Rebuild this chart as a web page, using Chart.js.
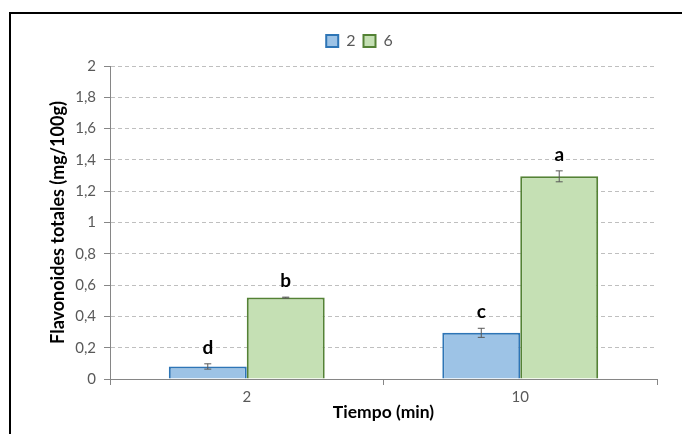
<!DOCTYPE html>
<html>
<head>
<meta charset="utf-8">
<script src="https://cdn.jsdelivr.net/npm/chart.js@4"></script>
<style>
  html, body { margin: 0; padding: 0; background: #fff; }
  #wrap { width: 682px; height: 434px; }
</style>
</head>
<body>
<div id="wrap"><canvas id="grafico" width="682" height="434"></canvas></div>
<script>
// datos
const categorias = ['2', '10'];
const serieNombres = ['2', '6'];
const valores2 = [0.08, 0.295];
const valores6 = [0.52, 1.295];
const error2 = [0.017, 0.029];
const error6 = [0.003, 0.035];
const letras2 = ['d', 'c'];
const letras6 = ['b', 'a'];
const ticksY = [0, 0.2, 0.4, 0.6, 0.8, 1, 1.2, 1.4, 1.6, 1.8, 2];

const fuente = 'Lato, "Open Sans", sans-serif';
const gris = '#595959';

// marco negro arriba e izquierda
const marco = {
  id: 'marco',
  afterDraw(chart) {
    const c = chart.ctx;
    c.save();
    c.strokeStyle = '#000';
    c.lineWidth = 2;
    c.beginPath();
    c.moveTo(682, 13);
    c.lineTo(10, 13);
    c.lineTo(10, 434);
    c.stroke();
    c.restore();
  }
};

// barras de error y letras
const errores = {
  id: 'errores',
  afterDatasetsDraw(chart) {
    const c = chart.ctx;
    const y = chart.scales.y;
    const errs = [error2, error6];
    const letras = [letras2, letras6];
    c.save();
    chart.data.datasets.forEach((ds, i) => {
      const meta = chart.getDatasetMeta(i);
      meta.data.forEach((bar, j) => {
        const v = ds.data[j];
        const yTop = y.getPixelForValue(v + errs[i][j]);
        const yBot = y.getPixelForValue(v - errs[i][j]);
        const x = bar.x;
        c.strokeStyle = gris;
        c.lineWidth = 1;
        c.beginPath();
        c.moveTo(x, yTop); c.lineTo(x, yBot);
        c.moveTo(x - 3.5, yTop); c.lineTo(x + 3.5, yTop);
        c.moveTo(x - 3.5, yBot); c.lineTo(x + 3.5, yBot);
        c.stroke();
        c.fillStyle = '#000';
        c.font = 'bold 19px ' + fuente;
        c.textAlign = 'center';
        c.textBaseline = 'alphabetic';
        c.fillText(letras[i][j], x, yTop - 10);
      });
    });
    c.restore();
  }
};

// mas espacio bajo la leyenda y un poco a la derecha
const leyendaAlta = {
  id: 'leyendaAlta',
  beforeInit(chart) {
    const fit = chart.legend.fit;
    chart.legend.fit = function () {
      fit.bind(chart.legend)();
      this.height += 7;
    };
  },
  afterLayout(chart) {
    chart.legend.left += 16;
    chart.legend.right += 16;
  }
};

new Chart(document.getElementById('grafico'), {
  type: 'bar',
  data: {
    labels: categorias,
    datasets: [{
      label: serieNombres[0],
      data: valores2,
      backgroundColor: '#9DC3E6',
      borderColor: '#2E75B6',
      borderWidth: 2,
      categoryPercentage: 0.57,
      barPercentage: 1
    }, {
      label: serieNombres[1],
      data: valores6,
      backgroundColor: '#C5E0B4',
      borderColor: '#548235',
      borderWidth: 2,
      categoryPercentage: 0.57,
      barPercentage: 1
    }]
  },
  options: {
    responsive: false,
    animation: false,
    layout: { padding: { left: 30, right: 25, top: 25, bottom: 8 } },
    plugins: {
      legend: {
        position: 'top',
        labels: {
          boxWidth: 12,
          boxHeight: 12,
          padding: 8,
          color: gris,
          font: { family: fuente, size: 16 }
        }
      },
      tooltip: { enabled: false }
    },
    scales: {
      x: {
        offset: true,
        afterFit(s) { s.height = 47; },
        grid: { offset: true, drawOnChartArea: false, tickLength: 6, tickColor: '#868686' },
        border: { color: '#868686', width: 1 },
        ticks: { color: gris, padding: 3, font: { family: fuente, size: 15 } },
        title: {
          display: true,
          text: 'Tiempo (min)',
          color: '#000',
          font: { family: fuente, size: 17.5, weight: 'bold' },
          padding: { top: 0, bottom: 3 }
        }
      },
      y: {
        min: 0,
        max: 2,
        afterFit(s) { s.width = 80; },
        afterBuildTicks(s) { s.ticks = ticksY.map(v => ({ value: v })); },
        grid: {
          color: ctx => ctx.tick && ctx.tick.value === 0 ? 'rgba(0,0,0,0)' : '#BFBFBF',
          tickColor: '#868686',
          tickLength: 6,
          tickBorderDash: []
        },
        border: { color: '#868686', width: 1, dash: [4, 3] },
        ticks: {
          color: gris,
          padding: 8,
          font: { family: fuente, size: 15 },
          callback: v => String(Math.round(v * 10) / 10).replace('.', ',')
        },
        title: {
          display: true,
          text: 'Flavonoides totales (mg/100g)',
          color: '#000',
          font: { family: fuente, size: 18, weight: 'bold' },
          padding: { top: 17, bottom: 0 }
        }
      }
    }
  },
  plugins: [marco, errores, leyendaAlta]
});
</script>
</body>
</html>
